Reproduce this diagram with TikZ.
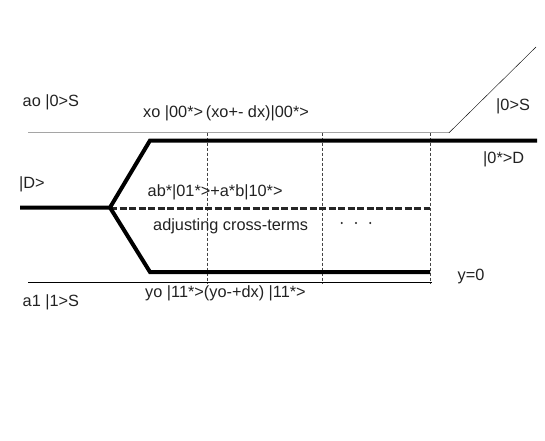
\documentclass[tikz,border=0pt]{standalone}
\usepackage{fontspec}
\setmainfont{Liberation Sans}
\definecolor{txt}{HTML}{222222}
\definecolor{thin}{HTML}{222222}
\definecolor{vdash}{HTML}{444444}
\begin{document}
\begin{tikzpicture}[x=1pt,y=-1pt,
  lbl/.style={anchor=base west,inner sep=0pt,text=txt,font=\fontsize{16.3}{19}\selectfont},
  thickline/.style={line width=4pt,black,line join=miter},
  thinline/.style={line width=1pt,thin},
  midline/.style={line width=2.2pt,black!85,dash pattern=on 7pt off 2.5pt},
  vline/.style={line width=0.8pt,vdash,dash pattern=on 3pt off 2pt}]
\useasboundingbox (0,0) rectangle (545,440);
% coordinates
\coordinate (tl) at (28,132.7);
\coordinate (tr) at (449,132.7);
\coordinate (te) at (536,47);
\coordinate (bl) at (28,282);
\coordinate (br) at (432,282);
\coordinate (in) at (20,207.5);
\coordinate (j) at (110,207.5);
\coordinate (u1) at (150,140.5);
\coordinate (u2) at (537,140.5);
\coordinate (d1) at (150,272);
\coordinate (d2) at (430,272);
\coordinate (m2) at (430,208.5);
\coordinate (j2) at (110,208.5);
\foreach \n/\x in {va/207.5,vb/322.5,vc/430}{
  \coordinate (\n t) at (\x,132.7);
  \coordinate (\n b) at (\x,283);
}
% thin lines
\draw[thinline] (tl) -- (tr) -- (te);
\draw[thinline] (bl) -- (br);
% vertical dashed
\draw[vline] (vat) -- (vab);
\draw[vline] (vbt) -- (vbb);
\draw[vline] (vct) -- (vcb);
% middle dashed
\draw[midline] (j2) -- (m2);
% thick
\draw[thickline] (in) -- (j) -- (u1) -- (u2);
\draw[thickline] (j) -- (d1) -- (d2);
% labels
\node[lbl] (a0) at (22.5,106.5) {ao |0>S};
\node[lbl] (x0) at (143,117.5) {xo |00*>\,(xo+- dx)|00*>};
\node[lbl] (s0) at (496,110) {|0>S};
\node[lbl] (d0) at (483,163) {|0*>D};
\node[lbl] (dd) at (19,188) {|D>};
\node[lbl] (ab) at (147.5,196) {ab*|01*>+a*b|10*>};
\node[lbl] (adj) at (153,230) {adjusting cross-terms};
\node[inner sep=0pt] (dots) at (356,223) {};
\foreach \dx in {-14.3,0,14.3}{\fill[txt] ([xshift=\dx pt]dots) circle (1.1pt);}
\node[lbl] (y0) at (457.5,280) {y=0};
\node[lbl] (yo) at (145,297.7) {yo |11*>(yo-+dx) |11*>};
\node[lbl] (a1) at (22.5,306.7) {a1 |1>S};
\end{tikzpicture}
\end{document}
